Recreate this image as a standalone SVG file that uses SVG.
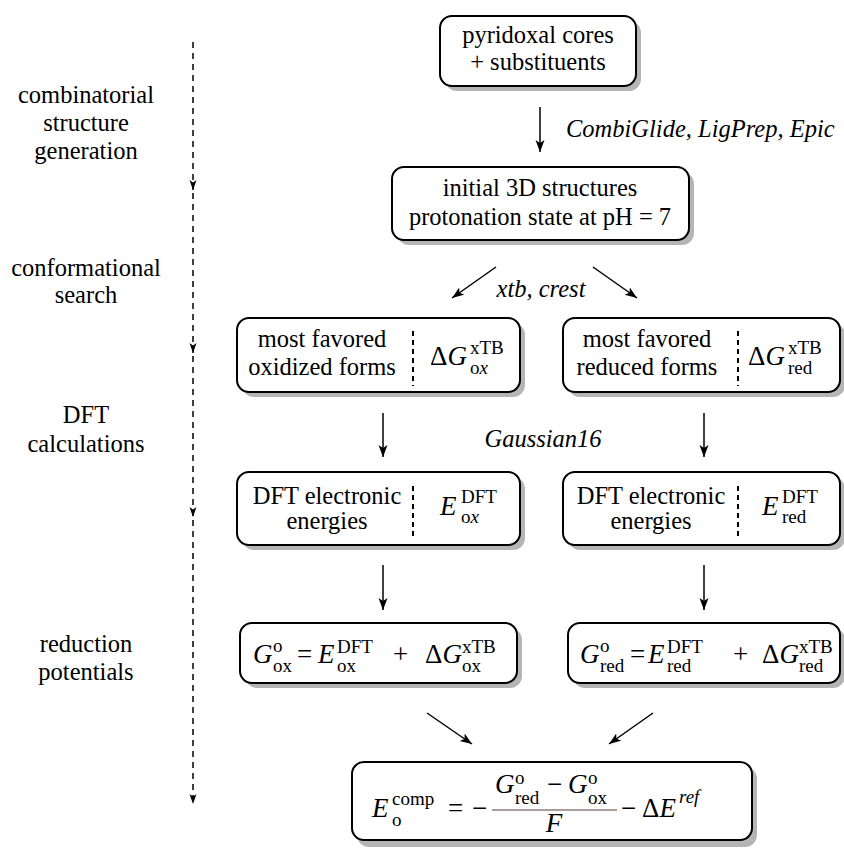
<svg xmlns="http://www.w3.org/2000/svg" width="844" height="848" viewBox="0 0 844 848" font-family="'Liberation Serif', 'Times New Roman', serif">
<style>
.box{fill:#fff;stroke:#000;stroke-width:2}
.sh{fill:#b5b5b5}
.ntxt{font-family:'Liberation Serif','Times New Roman',serif;font-size:24.5px;text-anchor:middle;fill:#000}
.elab{font-family:'Liberation Serif','Times New Roman',serif;font-size:24.5px;font-style:italic;fill:#000}
.m{font-family:'Liberation Serif','Times New Roman',serif;font-size:27px;font-style:italic;fill:#000}
.s{font-family:'Liberation Serif','Times New Roman',serif;font-size:19px;fill:#000}
.up{font-style:normal}
.dv{stroke:#000;stroke-width:2;stroke-dasharray:5 4}
.c{stroke:#000;stroke-width:1.5;fill:none;marker-end:url(#ah)}
.cd{stroke:#000;stroke-width:1.5;fill:none;stroke-dasharray:6 5;marker-end:url(#ahs)}
</style>
<defs>
<marker id="ah" markerUnits="userSpaceOnUse" markerWidth="13" markerHeight="10" refX="12" refY="4.5" orient="auto"><path d="M0,0 L12,4.5 L0,9 L3,4.5 z" fill="#000"/></marker>
<marker id="ahs" markerUnits="userSpaceOnUse" markerWidth="11" markerHeight="8" refX="10" refY="3.5" orient="auto"><path d="M0,0 L10,3.5 L0,7 L2.5,3.5 z" fill="#000"/></marker>
</defs>
<rect width="844" height="848" fill="#fff"/>

<g id="stage-labels">
<text class="ntxt" x="86" y="103">combinatorial</text>
<text class="ntxt" x="86" y="131">structure</text>
<text class="ntxt" x="86" y="159">generation</text>
<text class="ntxt" x="86" y="276">conformational</text>
<text class="ntxt" x="86" y="303">search</text>
<text class="ntxt" x="86" y="423">DFT</text>
<text class="ntxt" x="86" y="452">calculations</text>
<text class="ntxt" x="86" y="652">reduction</text>
<text class="ntxt" x="86" y="680">potentials</text>
</g>

<g id="connectors">
<line class="cd" x1="193" y1="42" x2="193" y2="190"/>
<line class="cd" x1="193" y1="193" x2="193" y2="353"/>
<line class="cd" x1="193" y1="356" x2="193" y2="517"/>
<line class="cd" x1="193" y1="520" x2="193" y2="804"/>
<line class="c" x1="540" y1="107" x2="540" y2="152"/>
<line class="c" x1="496" y1="267" x2="452" y2="298"/>
<line class="c" x1="593" y1="267" x2="637" y2="298"/>
<line class="c" x1="383" y1="413" x2="383" y2="457"/>
<line class="c" x1="704" y1="413" x2="704" y2="457"/>
<line class="c" x1="383" y1="565" x2="383" y2="610"/>
<line class="c" x1="704" y1="565" x2="704" y2="610"/>
<line class="c" x1="427" y1="713" x2="472" y2="744"/>
<line class="c" x1="653" y1="713" x2="609" y2="744"/>
<text class="elab" x="566" y="137">CombiGlide, LigPrep, Epic</text>
<text class="elab" x="541" y="297" text-anchor="middle">xtb, crest</text>
<text class="elab" x="543" y="447" text-anchor="middle">Gaussian16</text>
</g>

<g id="n-cores">
<rect class="sh" x="445" y="21" width="196" height="70" rx="12"/>
<rect class="box" x="440" y="16" width="196" height="70" rx="12"/>
<text class="ntxt" x="538" y="43">pyridoxal cores</text>
<text class="ntxt" x="538" y="70">+ substituents</text>
</g>

<g id="n-initial">
<rect class="sh" x="397" y="172" width="297" height="73" rx="12"/>
<rect class="box" x="392" y="167" width="297" height="73" rx="12"/>
<text class="ntxt" x="540" y="196">initial 3D structures</text>
<text class="ntxt" x="540" y="225">protonation state at pH = 7</text>
</g>

<g id="n-ox-forms">
<rect class="sh" x="242" y="323" width="283" height="74" rx="12"/>
<rect class="box" x="237" y="318" width="283" height="74" rx="12"/>
<text class="ntxt" x="322" y="347">most favored</text>
<text class="ntxt" x="322" y="375">oxidized forms</text>
<line class="dv" x1="413" y1="331" x2="413" y2="386"/>
<text class="m" x="430" y="365"><tspan class="up">Δ</tspan>G</text>
<text class="s" x="470" y="354">xTB</text>
<text class="s" x="470" y="374">o<tspan font-style="italic">x</tspan></text>
</g>

<g id="n-red-forms">
<rect class="sh" x="568" y="323" width="277" height="74" rx="12"/>
<rect class="box" x="563" y="318" width="277" height="74" rx="12"/>
<text class="ntxt" x="647" y="347">most favored</text>
<text class="ntxt" x="647" y="375">reduced forms</text>
<line class="dv" x1="738" y1="331" x2="738" y2="386"/>
<text class="m" x="748" y="365"><tspan class="up">Δ</tspan>G</text>
<text class="s" x="788" y="354">xTB</text>
<text class="s" x="788" y="374">red</text>
</g>

<g id="n-dft-ox">
<rect class="sh" x="242" y="477" width="283" height="73" rx="12"/>
<rect class="box" x="237" y="472" width="283" height="73" rx="12"/>
<text class="ntxt" x="327" y="504">DFT electronic</text>
<text class="ntxt" x="327" y="529">energies</text>
<line class="dv" x1="413" y1="486" x2="413" y2="540"/>
<text class="m" x="440" y="515">E</text>
<text class="s" x="461" y="503">DFT</text>
<text class="s" x="461" y="523">o<tspan font-style="italic">x</tspan></text>
</g>

<g id="n-dft-red">
<rect class="sh" x="568" y="477" width="277" height="73" rx="12"/>
<rect class="box" x="563" y="472" width="277" height="73" rx="12"/>
<text class="ntxt" x="651" y="504">DFT electronic</text>
<text class="ntxt" x="651" y="529">energies</text>
<line class="dv" x1="738" y1="486" x2="738" y2="540"/>
<text class="m" x="762" y="515">E</text>
<text class="s" x="782" y="503">DFT</text>
<text class="s" x="782" y="523">red</text>
</g>

<g id="n-g-ox">
<rect class="sh" x="245" y="628" width="277" height="60" rx="12"/>
<rect class="box" x="240" y="623" width="277" height="60" rx="12"/>
<text class="m" x="253" y="663" font-size="26">G</text>
<text class="s" x="273" y="652">o</text>
<text class="s" x="273" y="672">ox</text>
<text class="m up" x="297" y="663" font-size="26">=</text>
<text class="m" x="318" y="663" font-size="26">E</text>
<text class="s" x="337" y="653">DFT</text>
<text class="s" x="337" y="672">ox</text>
<text class="m up" x="393" y="663" font-size="26">+</text>
<text class="m" x="425" y="663" font-size="26"><tspan class="up">Δ</tspan>G</text>
<text class="s" x="462" y="653">xTB</text>
<text class="s" x="462" y="672">ox</text>
</g>

<g id="n-g-red">
<rect class="sh" x="573" y="628" width="272" height="60" rx="12"/>
<rect class="box" x="568" y="623" width="272" height="60" rx="12"/>
<text class="m" x="580" y="663" font-size="26">G</text>
<text class="s" x="600" y="652">o</text>
<text class="s" x="600" y="672">red</text>
<text class="m up" x="630" y="663" font-size="26">=</text>
<text class="m" x="648" y="663" font-size="26">E</text>
<text class="s" x="667" y="653">DFT</text>
<text class="s" x="667" y="672">red</text>
<text class="m up" x="733" y="663" font-size="26">+</text>
<text class="m" x="762" y="663" font-size="26"><tspan class="up">Δ</tspan>G</text>
<text class="s" x="799" y="653">xTB</text>
<text class="s" x="799" y="672">red</text>
</g>

<g id="n-ecomp">
<rect class="sh" x="357" y="767" width="400" height="80" rx="12"/>
<rect class="box" x="352" y="762" width="400" height="78" rx="12"/>
<text class="m" x="372" y="817">E</text>
<text class="s" x="392" y="805" font-size="20">comp</text>
<text class="s" x="392" y="826">o</text>
<text class="m up" x="448" y="817" font-size="26">=</text>
<text class="m up" x="472" y="817" font-size="26">−</text>
<text class="m" x="495" y="793" font-size="26">G</text>
<text class="s" x="515" y="784">o</text>
<text class="s" x="515" y="804">red</text>
<text class="m up" x="547" y="793" font-size="26">−</text>
<text class="m" x="568" y="793" font-size="26">G</text>
<text class="s" x="588" y="784">o</text>
<text class="s" x="588" y="804">ox</text>
<line x1="492" y1="810" x2="617" y2="810" stroke="#8c7b78" stroke-width="1.5"/>
<text class="m" x="554" y="832" font-size="26" text-anchor="middle">F</text>
<text class="m up" x="621" y="817" font-size="26">−</text>
<text class="m" x="642" y="817"><tspan class="up">Δ</tspan>E</text>
<text class="s" x="679" y="803" font-size="20" font-style="italic">ref</text>
</g>
</svg>
